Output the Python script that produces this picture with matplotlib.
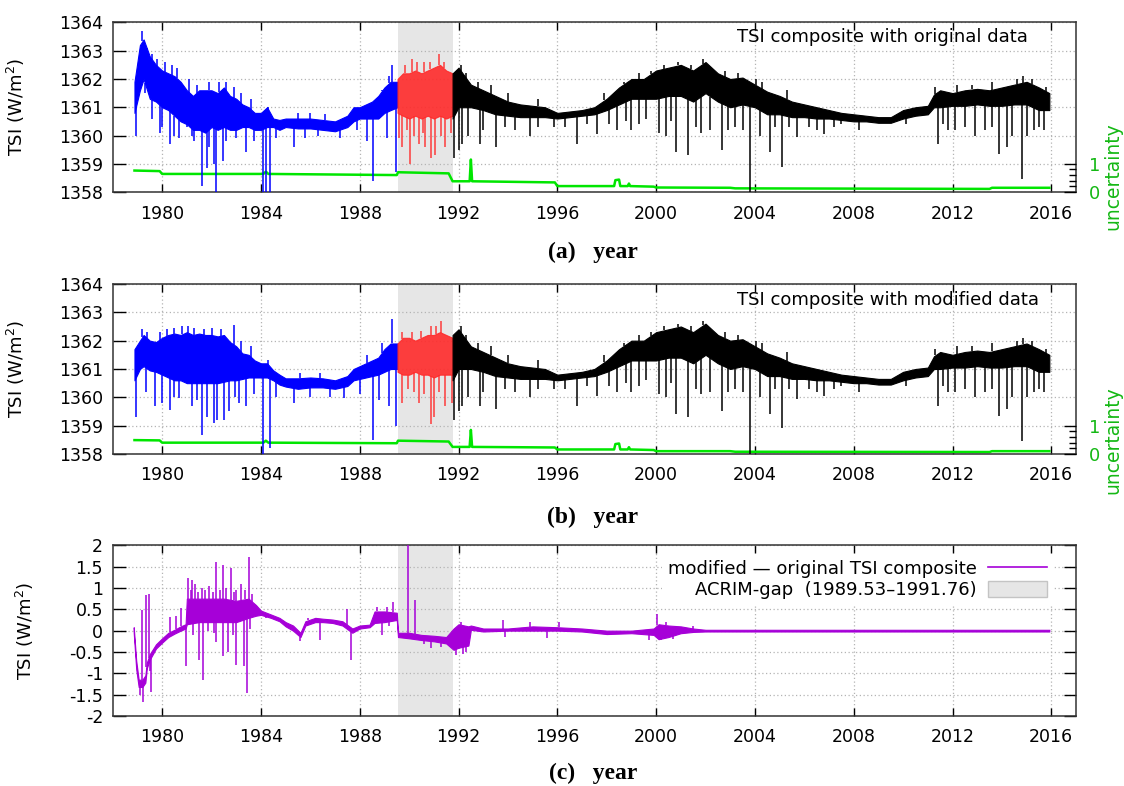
import numpy as np
import matplotlib
matplotlib.use('Agg')
import matplotlib.pyplot as plt
from matplotlib.lines import Line2D
from matplotlib.patches import Patch
from matplotlib.ticker import FixedLocator

plt.rcParams['font.family'] = 'DejaVu Sans'
plt.rcParams['font.size'] = 12
plt.rcParams['axes.unicode_minus'] = False
plt.rcParams['mathtext.fontset'] = 'dejavusans'

# ---- data (envelopes of the daily series + excursions) ----
gap = (1989.53, 1991.76)

blue_yr = [1978.88, 1979.1, 1979.25, 1979.5, 1979.75, 1980.0, 1980.25, 1980.5, 1980.75,
           1981.0, 1981.25, 1981.5, 1981.75, 1982.0, 1982.25, 1982.5, 1982.75, 1983.0,
           1983.25, 1983.5, 1983.75, 1984.0, 1984.25, 1984.5, 1984.75, 1985.0, 1985.5,
           1986.0, 1986.5, 1987.0, 1987.5, 1987.75, 1988.0, 1988.5, 1988.75, 1989.0,
           1989.25, 1989.53]
a_blue_hi = [1361.9, 1363.2, 1363.4, 1362.8, 1362.5, 1362.3, 1362.2, 1362.1, 1361.9,
             1361.6, 1361.4, 1361.6, 1361.6, 1361.6, 1361.5, 1361.7, 1361.4, 1361.3,
             1361.1, 1361.0, 1360.8, 1360.8, 1361.0, 1360.6, 1360.55, 1360.6, 1360.6,
             1360.6, 1360.55, 1360.5, 1360.7, 1361.0, 1361.0, 1361.2, 1361.4, 1361.7,
             1361.9, 1361.9]
a_blue_lo = [1360.8, 1361.6, 1362.0, 1361.3, 1361.2, 1361.0, 1360.9, 1360.7, 1360.5,
             1360.4, 1360.2, 1360.2, 1360.1, 1360.3, 1360.2, 1360.3, 1360.2, 1360.2,
             1360.3, 1360.3, 1360.2, 1360.2, 1360.3, 1360.3, 1360.2, 1360.3, 1360.25,
             1360.25, 1360.2, 1360.15, 1360.3, 1360.5, 1360.6, 1360.6, 1360.6, 1360.8,
             1360.9, 1361.0]
b_blue_hi = [1361.7, 1362.0, 1362.2, 1362.0, 1361.95, 1362.1, 1362.2, 1362.25, 1362.2,
             1362.3, 1362.2, 1362.25, 1362.2, 1362.2, 1362.15, 1362.2, 1361.95, 1361.8,
             1361.55, 1361.5, 1361.3, 1361.2, 1361.2, 1360.95, 1360.8, 1360.67, 1360.67,
             1360.7, 1360.67, 1360.6, 1360.75, 1361.0, 1361.1, 1361.3, 1361.4, 1361.7,
             1361.9, 1361.9]
b_blue_lo = [1360.6, 1361.0, 1361.1, 1360.95, 1360.9, 1360.8, 1360.7, 1360.6, 1360.6,
             1360.5, 1360.5, 1360.5, 1360.5, 1360.5, 1360.5, 1360.55, 1360.6, 1360.6,
             1360.65, 1360.7, 1360.7, 1360.7, 1360.7, 1360.6, 1360.45, 1360.38, 1360.3,
             1360.35, 1360.35, 1360.3, 1360.4, 1360.6, 1360.65, 1360.75, 1360.8, 1360.9,
             1361.0, 1361.0]
a_blue_spikes = [(1978.96, 1360.0), (1979.2, 1363.7), (1979.9, 1360.1), (1980.3, 1359.7),
                 (1980.7, 1359.9), (1981.0, 1360.3), (1981.2, 1360.0), (1981.6, 1358.2),
                 (1981.82, 1358.85), (1982.1, 1359.0), (1982.2, 1358.0), (1982.47, 1359.1),
                 (1982.6, 1361.9), (1983.4, 1359.4), (1984.1, 1358.0), (1984.19, 1358.0),
                 (1984.36, 1358.0), (1985.35, 1359.6), (1988.55, 1358.4), (1989.3, 1362.5),
                 (1989.47, 1358.7),
                 (1979.0, 1362.6), (1979.4, 1363.1), (1979.6, 1362.9), (1979.8, 1362.7),
                 (1980.1, 1362.6), (1980.4, 1362.5), (1980.6, 1362.4), (1981.1, 1362.0),
                 (1981.4, 1361.8), (1981.9, 1361.9), (1982.3, 1361.9), (1982.9, 1361.7),
                 (1983.2, 1361.5), (1983.6, 1361.3), (1984.3, 1361.0), (1985.5, 1360.8),
                 (1986.0, 1360.8), (1986.6, 1360.75), (1988.3, 1361.1), (1988.9, 1361.6),
                 (1989.2, 1362.1),
                 (1979.3, 1361.5), (1979.6, 1360.6), (1980.0, 1360.3), (1980.5, 1360.0),
                 (1981.3, 1359.8), (1981.9, 1359.6), (1982.6, 1359.8), (1983.0, 1359.9),
                 (1983.7, 1359.8), (1984.6, 1359.9), (1985.8, 1359.9), (1986.3, 1360.0),
                 (1987.2, 1359.9), (1987.9, 1360.2), (1988.3, 1359.8), (1989.1, 1359.9)]
b_blue_spikes = [(1978.96, 1359.3), (1979.2, 1362.4), (1979.7, 1359.7), (1980.3, 1359.55),
                 (1980.7, 1359.96), (1981.05, 1362.5), (1981.6, 1358.67), (1981.82, 1359.3),
                 (1982.1, 1359.1), (1982.23, 1359.2), (1982.5, 1359.2), (1982.9, 1362.55),
                 (1982.95, 1360.0), (1983.4, 1359.7), (1984.1, 1358.0), (1984.35, 1358.2),
                 (1985.35, 1359.8), (1987.35, 1359.96), (1988.53, 1358.5), (1989.3, 1362.75),
                 (1989.47, 1359.0),
                 (1979.4, 1362.3), (1979.9, 1362.3), (1980.2, 1362.4), (1980.5, 1362.45),
                 (1980.8, 1362.5), (1981.3, 1362.45), (1981.7, 1362.4), (1982.0, 1362.45),
                 (1982.4, 1362.4), (1983.2, 1362.0), (1983.6, 1361.8), (1984.3, 1361.3),
                 (1985.6, 1360.85), (1986.4, 1360.85), (1988.3, 1361.5), (1988.9, 1361.9),
                 (1979.35, 1360.2), (1980.0, 1359.8), (1980.5, 1360.0), (1981.2, 1359.7),
                 (1981.4, 1359.9), (1982.7, 1359.5), (1983.1, 1359.8), (1983.7, 1360.1),
                 (1984.6, 1360.0), (1986.0, 1360.0), (1986.8, 1360.0), (1988.0, 1360.1),
                 (1988.8, 1359.9), (1989.2, 1359.7)]

red_yr = [1989.53, 1989.75, 1990.0, 1990.25, 1990.5, 1990.75, 1991.0, 1991.25, 1991.5, 1991.76]
a_red_hi = [1362.0, 1362.2, 1362.2, 1362.3, 1362.2, 1362.3, 1362.4, 1362.5, 1362.3, 1362.2]
a_red_lo = [1360.8, 1360.7, 1360.6, 1360.7, 1360.6, 1360.7, 1360.6, 1360.7, 1360.6, 1360.7]
b_red_hi = [1361.9, 1362.1, 1362.1, 1362.0, 1362.1, 1362.2, 1362.2, 1362.3, 1362.2, 1362.1]
b_red_lo = [1360.9, 1360.8, 1360.8, 1360.9, 1360.8, 1360.8, 1360.7, 1360.8, 1360.8, 1360.8]
a_red_spikes = [(1989.6, 1359.9), (1989.7, 1359.6), (1990.05, 1359.0), (1990.1, 1362.7),
                (1990.4, 1359.7), (1990.6, 1362.6), (1990.65, 1359.6), (1990.9, 1359.2),
                (1991.05, 1359.3), (1991.2, 1362.9), (1991.45, 1359.6), (1991.7, 1360.1),
                (1989.85, 1362.5), (1990.3, 1362.6), (1990.85, 1362.6), (1991.4, 1362.6),
                (1989.9, 1360.2), (1990.2, 1360.0), (1990.55, 1360.1), (1991.3, 1360.0)]
b_red_spikes = [(1989.7, 1359.8), (1990.2, 1360.2), (1990.4, 1359.8), (1990.9, 1359.05),
                (1990.9, 1362.5), (1991.0, 1359.3), (1991.3, 1362.7), (1991.45, 1359.7),
                (1991.75, 1359.8),
                (1989.7, 1362.3), (1990.1, 1362.3), (1990.5, 1362.35), (1991.1, 1362.5),
                (1989.95, 1360.3), (1990.6, 1360.1), (1991.2, 1360.2)]

blk_yr = [1991.76, 1992.0, 1992.5, 1993.0, 1993.5, 1994.0, 1994.5, 1995.0, 1995.5, 1996.0,
          1996.5, 1997.0, 1997.5, 1998.0, 1998.5, 1999.0, 1999.5, 2000.0, 2000.5, 2001.0,
          2001.5, 2002.0, 2002.5, 2003.0, 2003.5, 2004.0, 2004.5, 2005.0, 2005.5, 2006.0,
          2006.5, 2007.0, 2007.5, 2008.0, 2008.5, 2009.0, 2009.5, 2010.0, 2010.5, 2011.0,
          2011.25, 2011.5, 2012.0, 2012.5, 2013.0, 2013.5, 2014.0, 2014.5, 2015.0, 2015.5,
          2015.92]
blk_hi = [1362.2, 1362.4, 1361.8, 1361.6, 1361.4, 1361.2, 1361.1, 1361.05, 1361.0, 1360.8,
          1360.85, 1360.9, 1361.0, 1361.3, 1361.7, 1362.0, 1362.0, 1362.3, 1362.4, 1362.5,
          1362.3, 1362.6, 1362.2, 1362.0, 1362.05, 1361.8, 1361.55, 1361.4, 1361.2, 1361.1,
          1361.0, 1360.9, 1360.8, 1360.75, 1360.7, 1360.65, 1360.65, 1360.9, 1361.0, 1361.05,
          1361.45, 1361.6, 1361.5, 1361.6, 1361.65, 1361.6, 1361.7, 1361.8, 1361.9, 1361.7,
          1361.5]
blk_lo = [1360.6, 1361.0, 1361.0, 1360.9, 1360.75, 1360.7, 1360.65, 1360.65, 1360.65, 1360.6,
          1360.65, 1360.7, 1360.75, 1360.9, 1361.1, 1361.3, 1361.3, 1361.3, 1361.4, 1361.4,
          1361.2, 1361.5, 1361.2, 1361.0, 1361.1, 1361.0, 1360.75, 1360.75, 1360.65, 1360.65,
          1360.6, 1360.6, 1360.55, 1360.5, 1360.5, 1360.45, 1360.45, 1360.6, 1360.7, 1360.75,
          1361.0, 1361.0, 1361.05, 1361.05, 1361.1, 1361.05, 1361.05, 1361.1, 1361.1, 1360.9,
          1360.9]
blk_spikes = [(1991.8, 1359.2), (1992.0, 1359.5), (1992.1, 1362.5), (1992.15, 1359.7),
              (1992.4, 1360.0), (1992.85, 1359.7), (1993.5, 1359.6), (1994.3, 1360.2),
              (1994.9, 1360.0), (1995.85, 1360.3), (1996.8, 1359.7), (1997.6, 1360.05),
              (1998.4, 1360.2), (1999.0, 1360.2), (1999.6, 1360.6), (2000.4, 1360.0),
              (2000.8, 1359.4), (2000.9, 1362.6), (2001.3, 1359.3), (2001.8, 1360.1),
              (2001.9, 1362.7), (2002.65, 1359.5), (2003.2, 1360.3), (2003.82, 1358.0),
              (2004.05, 1362.0), (2004.2, 1360.0), (2004.6, 1359.4), (2005.1, 1358.9),
              (2005.7, 1359.95), (2006.2, 1360.3), (2006.8, 1360.05), (2007.5, 1360.4),
              (2011.4, 1359.7), (2011.8, 1360.2), (2012.5, 1360.3), (2013.3, 1360.2),
              (2013.9, 1359.35), (2014.4, 1360.0), (2014.8, 1358.45), (2014.85, 1362.1),
              (2015.3, 1360.2), (2015.7, 1360.2),
              (1992.3, 1362.2), (1992.8, 1361.9), (1993.3, 1361.8), (1994.0, 1361.5),
              (1995.2, 1361.3), (1997.9, 1361.5), (1998.7, 1361.9), (1999.3, 1362.2),
              (1999.8, 1362.3), (2000.3, 1362.5), (2001.4, 1362.5), (2002.2, 1362.4),
              (2002.8, 1362.3), (2003.3, 1362.2), (2004.3, 1361.9), (2005.3, 1361.6),
              (2011.3, 1361.7), (2012.2, 1361.8), (2012.8, 1361.8), (2013.6, 1361.9),
              (2014.6, 1362.0), (2015.2, 1362.0), (2015.8, 1361.7),
              (1993.0, 1360.2), (1993.9, 1360.3), (1995.2, 1360.3), (1996.3, 1360.3),
              (1997.2, 1360.4), (1998.1, 1360.4), (1998.8, 1360.5), (1999.3, 1360.4),
              (2000.1, 1360.1), (2000.6, 1360.5), (2001.6, 1360.3), (2002.2, 1360.2),
              (2002.9, 1360.2), (2003.5, 1360.2), (2004.8, 1360.3), (2005.4, 1360.3),
              (2006.5, 1360.2), (2007.2, 1360.3), (2008.2, 1360.2), (2010.1, 1360.4),
              (2011.6, 1360.4), (2012.1, 1360.2), (2012.9, 1360.0), (2013.6, 1360.3),
              (2014.2, 1359.6), (2015.0, 1360.0), (2015.5, 1360.3)]

unc_yr = [1978.88, 1979.9, 1980.0, 1984.1, 1984.2, 1984.3, 1989.5, 1989.55, 1991.6, 1991.76,
          1992.45, 1992.5, 1992.55, 1995.9, 1996.0, 1998.3, 1998.35, 1998.5, 1998.55, 1998.85,
          1998.9, 1998.95, 1999.9, 2000.0, 2003.0, 2003.2, 2013.5, 2013.6, 2015.92]
a_unc = [0.76, 0.74, 0.64, 0.64, 0.72, 0.64, 0.6, 0.7, 0.66, 0.38,
         0.38, 1.15, 0.38, 0.34, 0.21, 0.21, 0.42, 0.44, 0.21, 0.21,
         0.3, 0.21, 0.19, 0.16, 0.15, 0.13, 0.11, 0.15, 0.15]
b_unc = [0.49, 0.48, 0.4, 0.4, 0.47, 0.4, 0.38, 0.47, 0.44, 0.25,
         0.25, 0.85, 0.25, 0.23, 0.16, 0.16, 0.35, 0.37, 0.16, 0.16,
         0.24, 0.16, 0.14, 0.1, 0.1, 0.08, 0.07, 0.1, 0.1]

c_yr = [1978.85, 1978.95, 1979.05, 1979.2, 1979.32, 1979.38, 1979.5, 1979.75, 1980.0, 1980.25,
        1980.5, 1980.75, 1980.95, 1981.0, 1981.5, 1982.0, 1982.5, 1983.0, 1983.5, 1983.8,
        1984.0, 1984.4, 1984.75, 1985.0, 1985.3, 1985.6, 1985.8, 1986.2, 1986.5, 1986.9,
        1987.3, 1987.7, 1988.0, 1988.4, 1988.6, 1989.0, 1989.5, 1989.55, 1990.0, 1990.5,
        1991.0, 1991.5, 1991.8, 1992.0, 1992.4, 1992.5, 1993.0, 1994.0, 1995.0, 1996.0,
        1997.0, 1998.0, 1999.0, 1999.9, 2000.1, 2000.5, 2001.0, 2001.5, 2002.0, 2008.0,
        2015.92]
c_lo = [-0.05, -0.9, -1.32, -1.32, -1.22, -0.88, -0.68, -0.42, -0.28, -0.15,
        -0.07, 0.0, 0.05, 0.15, 0.2, 0.2, 0.2, 0.2, 0.3, 0.35,
        0.37, 0.3, 0.22, 0.1, 0.0, -0.15, 0.12, 0.2, 0.2, 0.18,
        0.12, -0.05, 0.05, 0.08, 0.18, 0.2, 0.25, -0.15, -0.18, -0.22,
        -0.25, -0.3, -0.45, -0.4, -0.35, 0.02, -0.02, 0.0, 0.0, 0.0,
        -0.02, -0.08, -0.06, -0.1, -0.2, -0.15, -0.06, -0.03, -0.02, -0.02,
        -0.02]
c_hi = [0.08, -0.7, -1.15, -1.15, -1.05, -0.75, -0.55, -0.32, -0.18, -0.05,
        0.02, 0.1, 0.15, 0.75, 0.75, 0.75, 0.75, 0.7, 0.75, 0.6,
        0.47, 0.38, 0.3, 0.2, 0.12, -0.05, 0.22, 0.3, 0.28, 0.26,
        0.22, 0.05, 0.12, 0.14, 0.45, 0.45, 0.42, -0.05, -0.05, -0.1,
        -0.12, -0.15, 0.05, 0.15, 0.1, 0.12, 0.05, 0.05, 0.1, 0.08,
        0.05, 0.0, 0.0, 0.05, 0.15, 0.12, 0.1, 0.05, 0.02, 0.02,
        0.02]
c_spikes = [(1979.1, -1.5), (1979.2, 0.48), (1979.23, -1.68), (1979.36, 0.84), (1979.45, 0.86),
            (1979.5, -0.95), (1979.55, -1.43), (1980.3, 0.33), (1980.55, 0.35), (1980.75, 0.52),
            (1980.96, -0.84), (1981.05, 1.23), (1981.2, 1.19), (1981.35, 1.1), (1981.5, -0.69),
            (1981.6, 1.0), (1981.66, -1.16), (1981.9, 1.05), (1982.2, 1.62), (1982.2, -0.26),
            (1982.45, -0.6), (1982.47, 1.54), (1982.6, 1.0), (1982.65, -0.5), (1982.8, 1.46),
            (1983.0, 0.95), (1983.0, -0.8), (1983.2, 1.1), (1983.3, -0.84), (1983.42, -1.47),
            (1983.5, 1.73), (1985.6, -0.25), (1986.4, -0.22), (1987.5, 0.5), (1987.63, -0.69),
            (1988.9, -0.1), (1989.35, 0.66), (1989.95, 2.0), (1990.25, 0.72), (1990.9, -0.4),
            (1991.9, -0.57), (1992.3, -0.5), (1993.8, 0.24), (1993.9, -0.14), (1994.9, 0.2),
            (1995.6, -0.17), (1996.05, 0.2), (1999.7, -0.21), (2000.05, 0.39), (2000.2, -0.21),
            (1981.15, 0.95), (1981.45, 0.9), (1981.75, 0.95), (1982.05, 0.9), (1982.35, 0.95),
            (1982.9, 0.9), (1983.35, 0.95), (1983.65, 0.85), (1981.25, -0.1), (1981.85, 0.0),
            (1982.1, -0.05), (1982.85, -0.1), (1983.55, 0.05), (1984.2, 0.3), (1985.9, 0.3),
            (1988.7, 0.55), (1989.1, 0.55), (1989.2, 0.1), (1990.6, -0.32), (1991.3, -0.38),
            (1992.1, 0.2), (1992.2, -0.55), (2000.4, 0.2), (2000.7, -0.2), (2001.5, 0.12)]

years = [1980, 1984, 1988, 1992, 1996, 2000, 2004, 2008, 2012, 2016]

BLUE = '#0000ff'
RED = '#ff2a2a'
GREEN = '#00e600'
TXTGREEN = '#14b814'
PURPLE = '#a600d8'
GAPC = '#e6e6e6'
GRIDC = '#b4b4b4'


def band(ax, yr, lo, hi, spikes, color, alpha=1.0):
    ax.fill_between(yr, lo, hi, color=color, lw=0.8, alpha=alpha, zorder=3)
    xs = np.array([p[0] for p in spikes])
    vs = np.array([p[1] for p in spikes])
    lo_at = np.interp(xs, yr, lo)
    hi_at = np.interp(xs, yr, hi)
    base = np.where(vs < lo_at, lo_at, hi_at)
    ax.vlines(xs, base, vs, color=color, lw=1.1, alpha=alpha, zorder=3)


def frame(ax, ylo, yhi, yticks):
    ax.set_xlim(1978, 2017)
    ax.set_ylim(ylo, yhi)
    ax.set_xticks(years)
    ax.set_yticks(yticks)
    ax.axvspan(gap[0], gap[1], color=GAPC, lw=0, zorder=0.2)
    ax.set_axisbelow(True)
    ax.grid(True, ls=(0, (1, 2)), color=GRIDC, lw=0.9)
    ax.tick_params(axis='x', direction='in', top=True, length=6, width=1, pad=9, labelsize=12.5)
    ax.tick_params(axis='y', direction='in', right=True, length=9, width=1, pad=7, labelsize=12.5)
    for s in ax.spines.values():
        s.set_color('#333333')
        s.set_linewidth(1.1)
    ax.set_ylabel('TSI (W/m$^2$)', fontsize=13)


def uncertainty(ax, unc):
    ax2 = ax.twinx()
    ax2.set_ylim(0, 6)
    ax2.set_yticks([0, 1])
    ax2.yaxis.set_minor_locator(FixedLocator([0.2, 0.4, 0.6, 0.8]))
    ax2.tick_params(axis='y', which='major', direction='in', length=9, width=1, pad=9,
                    labelsize=13, labelcolor=TXTGREEN)
    ax2.tick_params(axis='y', which='minor', direction='in', length=5, width=1)
    for s in ax2.spines.values():
        s.set_visible(False)
    ax.plot(unc_yr, unc, color=GREEN, lw=1.8, zorder=2.5, transform=ax2.transData)


fig = plt.figure(figsize=(11.24, 7.86), dpi=100)
L, W = 0.1003, 0.857
axa = fig.add_axes([L, 0.7557, W, 0.2157])
axb = fig.add_axes([L, 0.4224, W, 0.2163])
axc = fig.add_axes([L, 0.0891, W, 0.2171])

# (a) original
frame(axa, 1358, 1364, range(1358, 1365))
uncertainty(axa, a_unc)
band(axa, blue_yr, a_blue_lo, a_blue_hi, a_blue_spikes, BLUE)
band(axa, red_yr, a_red_lo, a_red_hi, a_red_spikes, RED, 0.9)
band(axa, blk_yr, blk_lo, blk_hi, blk_spikes, 'black')
axa.text(0.648, 0.915, 'TSI composite with original data', transform=axa.transAxes,
         ha='left', va='center', fontsize=13, zorder=5)

# (b) modified
frame(axb, 1358, 1364, range(1358, 1365))
uncertainty(axb, b_unc)
band(axb, blue_yr, b_blue_lo, b_blue_hi, b_blue_spikes, BLUE)
band(axb, red_yr, b_red_lo, b_red_hi, b_red_spikes, RED, 0.9)
band(axb, blk_yr, blk_lo, blk_hi, blk_spikes, 'black')
axb.text(0.648, 0.905, 'TSI composite with modified data', transform=axb.transAxes,
         ha='left', va='center', fontsize=13, zorder=5)

for ax in (axa, axb):
    ax.yaxis.set_label_coords(-0.089, 0.5)

# (c) difference
frame(axc, -2, 2, np.arange(-2, 2.01, 0.5))
axc.set_yticklabels(['-2', '-1.5', '-1', '-0.5', '0', '0.5', '1', '1.5', '2'])
band(axc, c_yr, c_lo, c_hi, c_spikes, PURPLE)
axc.yaxis.set_label_coords(-0.08, 0.5)
handles = [Line2D([], [], color=PURPLE, lw=1.2),
           Patch(facecolor=GAPC, edgecolor='#c4c4c4', lw=1)]
leg = axc.legend(handles, ['modified — original TSI composite', 'ACRIM-gap  (1989.53–1991.76)'],
                 loc='upper right', bbox_to_anchor=(0.985, 1.0), markerfirst=False,
                 frameon=True, framealpha=1, facecolor='white', edgecolor='none',
                 fontsize=13, handlelength=3.3, handleheight=1.0, borderpad=0.3,
                 labelspacing=0.15, handletextpad=0.6, fancybox=False)
leg.set_zorder(6)
for t in leg.get_texts():
    t.set_ha('right')

# captions and right-hand labels
for yc, lab in ((252, '(a)   year'), (517, '(b)   year'), (773, '(c)   year')):
    fig.text(593 / 1124, 1 - yc / 786, lab, family='Liberation Serif', weight='bold',
             fontsize=17, ha='center', va='center')
for yc in (176, 440):
    fig.text(1113 / 1124, 1 - yc / 786, 'uncertainty', rotation=90, color=TXTGREEN,
             fontsize=13.5, ha='center', va='center')

fig.savefig('out.png', dpi=100)
